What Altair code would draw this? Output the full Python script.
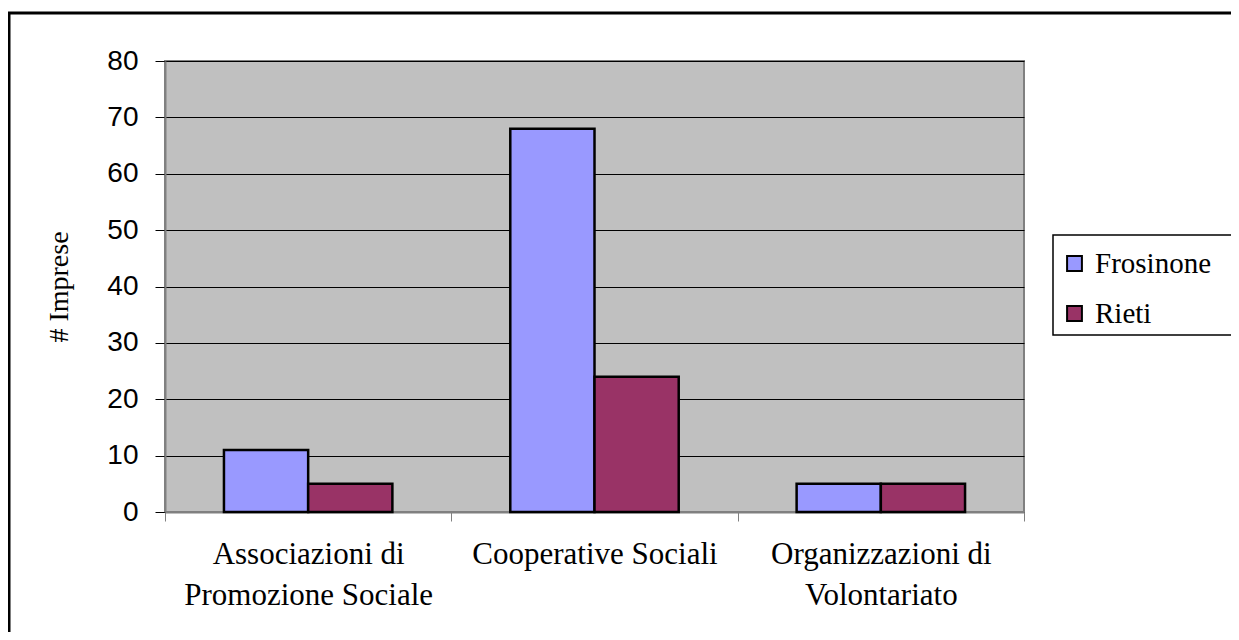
import altair as alt
import pandas as pd

categories = ["Associazioni di|Promozione Sociale", "Cooperative Sociali", "Organizzazioni di|Volontariato"]
series = ["Frosinone", "Rieti"]
frosinone = [11, 68, 5]
rieti = [5, 24, 5]
colors = ["#9999FF", "#993366"]
y_ticks = [0, 10, 20, 30, 40, 50, 60, 70, 80]

rows = []
for c, f, r in zip(categories, frosinone, rieti):
    rows.append({"cat": c, "serie": "Frosinone", "val": f})
    rows.append({"cat": c, "serie": "Rieti", "val": r})
df = pd.DataFrame(rows)

W, H = 859, 451
SERIF = "Liberation Serif, Times New Roman, serif"

bars = alt.Chart(df).mark_bar(stroke="black", strokeWidth=2.5).encode(
    x=alt.X("cat:N", sort=categories, title=None,
            scale=alt.Scale(paddingInner=0, paddingOuter=0),
            axis=alt.Axis(labelAngle=0, labelExpr="split(datum.label, '|')",
                          labelFont=SERIF, labelFontSize=31,
                          labelColor="black", labelLineHeight=41, labelLimit=0,
                          labelPadding=18, tickBand="extent", tickSize=9,
                          tickColor="#808080", domainColor="#808080",
                          domainWidth=2, labelAlign="center")),
    xOffset=alt.XOffset("serie:N", sort=series,
                        scale=alt.Scale(paddingInner=0, paddingOuter=0.70)),
    y=alt.Y("val:Q", title="# Imprese",
            scale=alt.Scale(domain=[0, 80], nice=False),
            axis=alt.Axis(values=y_ticks, labelFont="Liberation Sans",
                          labelFontSize=28, labelColor="black", labelPadding=17,
                          tickSize=10, tickColor="black", domainColor="#808080",
                          domainWidth=2, gridColor="black", gridWidth=1,
                          titleFont=SERIF, titleFontSize=28,
                          titleFontWeight="normal", titleColor="black",
                          titleX=-92, titleY=H / 2, titleAngle=-90,
                          titleAlign="center", titleBaseline="bottom")),
    color=alt.Color("serie:N", sort=series, title=None,
                    scale=alt.Scale(domain=series, range=colors),
                    legend=alt.Legend(orient="none", legendX=888, legendY=174,
                                      symbolType="square", symbolSize=220,
                                      symbolStrokeColor="black", symbolStrokeWidth=2,
                                      symbolOpacity=1, symbolOffset=-7,
                                      labelFont=SERIF, labelFontSize=29,
                                      labelColor="black", labelOffset=6,
                                      labelLimit=0,
                                      rowPadding=20, padding=14)),
)

one = pd.DataFrame({"a": [0]})

legend_box = alt.Chart(one).mark_rect(
    fill="white", stroke="black", strokeWidth=1.5
).encode(x=alt.value(888), x2=alt.value(1300), y=alt.value(174), y2=alt.value(274))

border = alt.Chart(one).mark_rect(
    fill="white", fillOpacity=0, stroke="black", strokeWidth=3
).encode(x=alt.value(-156), x2=alt.value(1300), y=alt.value(-48), y2=alt.value(800))

chart = alt.layer(legend_box, bars, border).properties(
    width=W, height=H,
    autosize=alt.AutoSizeParams(type="none"),
    padding={"left": 157, "top": 53, "right": 1223 - 157 - W, "bottom": 624 - 53 - H},
    background="white",
).configure_view(
    fill="#C0C0C0", stroke="#808080", strokeWidth=2
)

chart.save("out.html", embed_options={"renderer": "svg", "actions": False})
